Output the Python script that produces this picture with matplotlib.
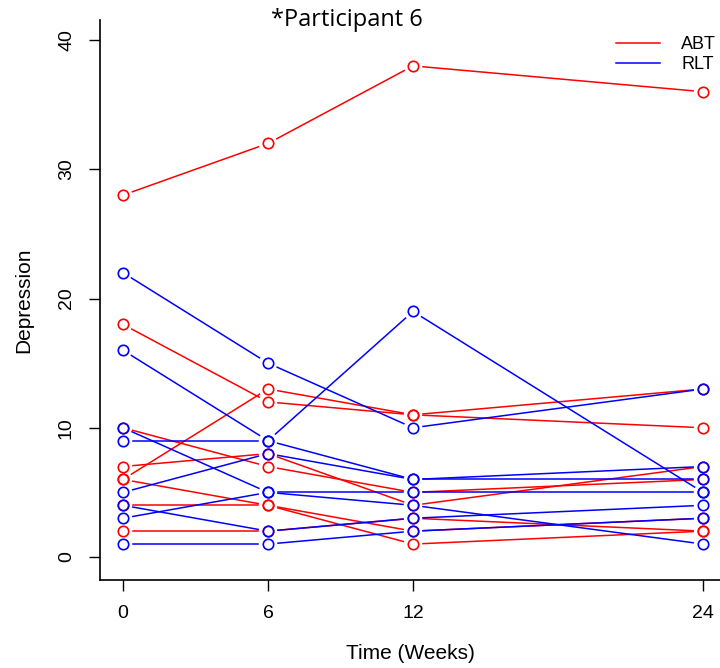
import numpy as np
import matplotlib.pyplot as plt

weeks = [0, 6, 12, 24]

# depression scores per participant, ABT group
abt_scores = [
    [28, 32, 38, 36],
    [18, 12, 11, 10],
    [6, 13, 11, 13],
    [10, 7, 5, 6],
    [7, 8, 4, 7],
    [6, 4, 2, 3],
    [4, 4, 1, 2],
    [2, 2, 3, 2],
]

# depression scores per participant, RLT group
rlt_scores = [
    [22, 15, 10, 13],
    [16, 9, 19, 5],
    [9, 9, 6, 6],
    [10, 5, 5, 5],
    [5, 8, 6, 7],
    [4, 2, 3, 4],
    [3, 5, 4, 1],
    [1, 1, 2, 3],
]

groups = ['ABT', 'RLT']
colors = ['#ff0000', '#0000ff']
yticks = [0, 10, 20, 30, 40]

plt.rcParams['font.family'] = ['Liberation Sans', 'DejaVu Sans']

fig = plt.figure(figsize=(7.2, 6.68), dpi=100)
ax = fig.add_axes([100 / 720, 88 / 668, 620 / 720, 560 / 668])
ax.set_xlim(-0.95, 24.7)
ax.set_ylim(-1.78, 41.55)

ax.spines['top'].set_visible(False)
ax.spines['right'].set_visible(False)
ax.spines['left'].set_linewidth(1.2)
ax.spines['bottom'].set_linewidth(1.2)


def gapped_line(x, y, color, gap=10):
    # lines stop short of each point, like R's type="b"
    pts = ax.transData.transform(np.column_stack([x, y]))
    for p0, p1 in zip(pts[:-1], pts[1:]):
        d = p1 - p0
        n = np.hypot(*d)
        if n <= 2 * gap:
            continue
        u = d / n
        a = ax.transData.inverted().transform([p0 + u * gap, p1 - u * gap])
        ax.plot(a[:, 0], a[:, 1], color=color, lw=1.1)
    ax.plot(x, y, 'o', ms=7.5, mfc='none', mec=color, mew=1.2)


for scores, color in zip([abt_scores, rlt_scores], colors):
    for row in scores:
        gapped_line(weeks, row, color)

for g, c in zip(groups, colors):
    ax.plot([], [], color=c, lw=1.1, label=g)
ax.legend(loc='upper right', bbox_to_anchor=(1.02, 1.0), frameon=False,
          fontsize=13, handlelength=2.4, handletextpad=1.2, labelspacing=0.15)

ax.set_xticks(weeks)
ax.set_yticks(yticks)
ax.tick_params(axis='both', length=8, width=1.0, labelsize=14, pad=10)
for lab in ax.get_yticklabels():
    lab.set_rotation(90)
    lab.set_va('center')

ax.set_xlabel('Time (Weeks)', fontsize=15, labelpad=16)
ax.set_ylabel('Depression', fontsize=15, labelpad=18)

fig.text(347 / 720, 1 - 20 / 668, '*Participant 6', fontsize=17,
         family='Open Sans', ha='center', va='center')

fig.savefig('out.png', dpi=100)
